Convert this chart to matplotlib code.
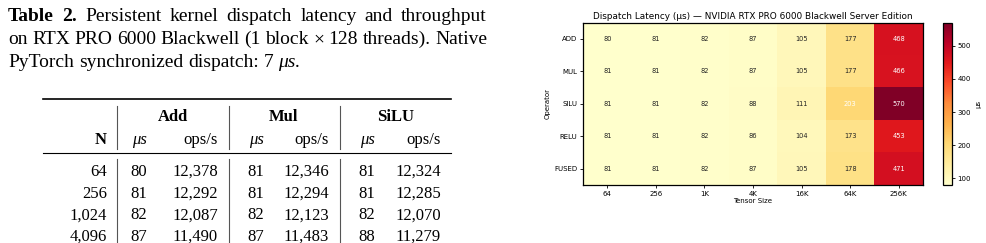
import numpy as np
import matplotlib
matplotlib.use("Agg")
import matplotlib.pyplot as plt

W, H = 987, 243

# table data
table_n = ["64", "256", "1,024", "4,096"]
add_us = [80, 81, 82, 87]
add_ops = ["12,378", "12,292", "12,087", "11,490"]
mul_us = [81, 81, 82, 87]
mul_ops = ["12,346", "12,294", "12,123", "11,483"]
silu_us = [81, 81, 82, 88]
silu_ops = ["12,324", "12,285", "12,070", "11,279"]

# heatmap data
operators = ["ADD", "MUL", "SILU", "RELU", "FUSED"]
sizes = ["64", "256", "1K", "4K", "16K", "64K", "256K"]
lat_add = [80, 81, 82, 87, 105, 177, 468]
lat_mul = [81, 81, 82, 87, 105, 177, 466]
lat_silu = [81, 81, 82, 88, 111, 203, 570]
lat_relu = [81, 81, 82, 86, 104, 173, 453]
lat_fused = [81, 81, 82, 87, 105, 178, 471]


def px(x, y):
    return x / W, 1 - y / H


fig = plt.figure(figsize=(W / 100, H / 100), dpi=100)
renderer = fig.canvas.get_renderer()
serif = "Liberation Serif"
cap_fs = 14
fs = 12


def text_line(tokens, x0, y, x1=None):
    # tokens: list of (word, kwargs); justified between x0 and x1 if x1 given
    arts = [fig.text(*px(x0, y), w, family=serif, fontsize=cap_fs, va="baseline", **kw)
            for w, kw in tokens]
    widths = [a.get_window_extent(renderer).width for a in arts]
    space = 0.25 * cap_fs * 100 / 72
    if x1 is not None and len(arts) > 1:
        space = (x1 - x0 - sum(widths)) / (len(arts) - 1)
    x = x0
    for a, w in zip(arts, widths):
        a.set_x(x / W)
        x += w + space


B = {"weight": "bold"}
N = {}
I = {"style": "italic"}
text_line([("Table", B), ("2.", B)] + [(w, N) for w in
          "Persistent kernel dispatch latency and throughput".split()], 8, 21, 487)
text_line([(w, N) for w in
          "on RTX PRO 6000 Blackwell (1 block \u00d7 128 threads). Native".split()], 8, 44, 487)
text_line([(w, N) for w in "PyTorch synchronized dispatch: 7".split()] + [("\u03bcs.", I)], 8, 67)

# table rules
fig.add_artist(plt.Line2D([43 / W, 451 / W], [1 - 99 / H] * 2, color="black", lw=1.2))
fig.add_artist(plt.Line2D([43 / W, 451 / W], [1 - 153 / H] * 2, color="black", lw=0.8))
for vx in [117, 229, 340]:
    fig.add_artist(plt.Line2D([vx / W] * 2, [1 - 106 / H, 1 - 149 / H], color="#555555", lw=0.8))
    fig.add_artist(plt.Line2D([vx / W] * 2, [1 - 159 / H, 0], color="#555555", lw=0.8))

# header
for name, cx in zip(["Add", "Mul", "SiLU"], [173, 284, 396]):
    fig.text(*px(cx, 121), name, family=serif, weight="bold", fontsize=fs, ha="center", va="baseline")
fig.text(*px(107, 144), "N", family=serif, weight="bold", fontsize=fs, ha="right", va="baseline")
us_x = [139, 256, 367]
ops_x = [218, 329, 441]
for ux, ox in zip(us_x, ops_x):
    fig.text(*px(ux, 144), "\u03bcs", family=serif, style="italic", fontsize=fs, ha="center", va="baseline")
    fig.text(*px(ox, 144), "ops/s", family=serif, fontsize=fs, ha="right", va="baseline")

# body
cols_us = [add_us, mul_us, silu_us]
cols_ops = [add_ops, mul_ops, silu_ops]
for i, n in enumerate(table_n):
    y = 176 + i * 21.6
    fig.text(*px(107, y), n, family=serif, fontsize=fs, ha="right", va="baseline")
    for ux, ox, us, ops in zip(us_x, ops_x, cols_us, cols_ops):
        fig.text(*px(ux, y), str(us[i]), family=serif, fontsize=fs, ha="center", va="baseline")
        fig.text(*px(ox, y), ops[i], family=serif, fontsize=fs, ha="right", va="baseline")

# heatmap
data = np.array([lat_add, lat_mul, lat_silu, lat_relu, lat_fused])
ax = fig.add_axes([583 / W, 1 - 185 / H, 340 / W, 162.5 / H])
im = ax.imshow(data, cmap="YlOrRd", aspect="auto", vmin=data.min(), vmax=data.max())
for r in range(data.shape[0]):
    for c in range(data.shape[1]):
        v = data[r, c]
        ax.text(c, r, str(v), ha="center", va="center", fontsize=4.8,
                color="white" if v > 190 else "#222222")
ax.set_xticks(range(len(sizes)))
ax.set_xticklabels(sizes, fontsize=5)
ax.set_yticks(range(len(operators)))
ax.set_yticklabels(operators, fontsize=5)
ax.tick_params(length=2.5, width=0.6, pad=1.5)
ax.set_xlabel("Tensor Size", fontsize=5, labelpad=1)
ax.set_ylabel("Operator", fontsize=5, labelpad=3)
ax.set_title("Dispatch Latency (\u03bcs) \u2014 NVIDIA RTX PRO 6000 Blackwell Server Edition",
             fontsize=6.4, pad=2.5)
for s in ax.spines.values():
    s.set_linewidth(0.9)

cax = fig.add_axes([943 / W, 1 - 185 / H, 9 / W, 162.5 / H])
cb = fig.colorbar(im, cax=cax)
cb.set_ticks([100, 200, 300, 400, 500])
cb.ax.tick_params(labelsize=5, length=2.5, width=0.6, pad=1.5)
cb.set_label("\u03bcs", fontsize=5, labelpad=3)
cb.outline.set_linewidth(0.9)

fig.savefig("out.png", dpi=100)
